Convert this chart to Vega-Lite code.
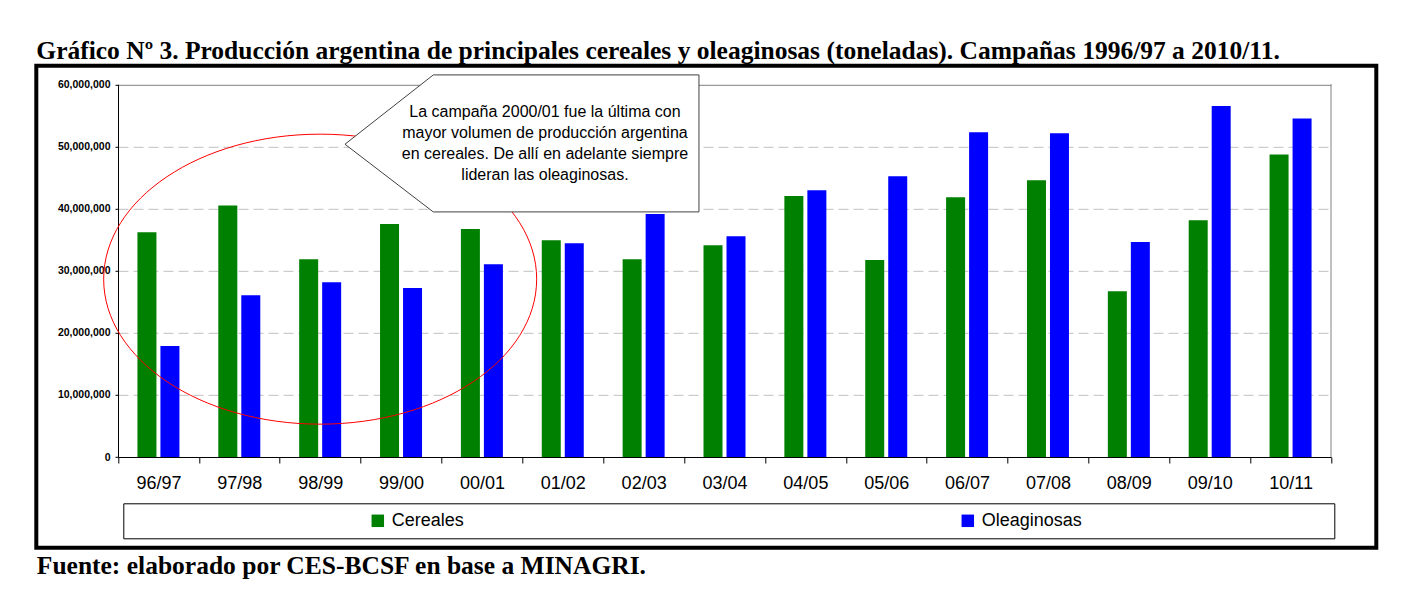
{
  "$schema": "https://vega.github.io/schema/vega-lite/v6.json",
  "width": 1340,
  "height": 482,
  "autosize": {"type": "none"},
  "padding": {"left": 36.3, "top": 65.8, "right": 51.7, "bottom": 49.2},
  "background": "white",
  "title": {
    "text": "Gráfico Nº 3. Producción argentina de principales cereales y oleaginosas (toneladas). Campañas 1996/97 a 2010/11.",
    "anchor": "start",
    "font": "Liberation Serif",
    "fontSize": 25.5,
    "fontWeight": "bold",
    "color": "black",
    "offset": 1
  },
  "config": {"view": {"stroke": "black", "strokeWidth": 4}},
  "datasets": {
    "produccion": [
      {"campana": "96/97", "cultivo": "Cereales", "valor": 36200000},
      {"campana": "96/97", "cultivo": "Oleaginosas", "valor": 17850000},
      {"campana": "97/98", "cultivo": "Cereales", "valor": 40500000},
      {"campana": "97/98", "cultivo": "Oleaginosas", "valor": 26050000},
      {"campana": "98/99", "cultivo": "Cereales", "valor": 31850000},
      {"campana": "98/99", "cultivo": "Oleaginosas", "valor": 28150000},
      {"campana": "99/00", "cultivo": "Cereales", "valor": 37500000},
      {"campana": "99/00", "cultivo": "Oleaginosas", "valor": 27200000},
      {"campana": "00/01", "cultivo": "Cereales", "valor": 36700000},
      {"campana": "00/01", "cultivo": "Oleaginosas", "valor": 31050000},
      {"campana": "01/02", "cultivo": "Cereales", "valor": 34900000},
      {"campana": "01/02", "cultivo": "Oleaginosas", "valor": 34400000},
      {"campana": "02/03", "cultivo": "Cereales", "valor": 31850000},
      {"campana": "02/03", "cultivo": "Oleaginosas", "valor": 39100000},
      {"campana": "03/04", "cultivo": "Cereales", "valor": 34100000},
      {"campana": "03/04", "cultivo": "Oleaginosas", "valor": 35550000},
      {"campana": "04/05", "cultivo": "Cereales", "valor": 42000000},
      {"campana": "04/05", "cultivo": "Oleaginosas", "valor": 42950000},
      {"campana": "05/06", "cultivo": "Cereales", "valor": 31700000},
      {"campana": "05/06", "cultivo": "Oleaginosas", "valor": 45200000},
      {"campana": "06/07", "cultivo": "Cereales", "valor": 41800000},
      {"campana": "06/07", "cultivo": "Oleaginosas", "valor": 52300000},
      {"campana": "07/08", "cultivo": "Cereales", "valor": 44550000},
      {"campana": "07/08", "cultivo": "Oleaginosas", "valor": 52100000},
      {"campana": "08/09", "cultivo": "Cereales", "valor": 26700000},
      {"campana": "08/09", "cultivo": "Oleaginosas", "valor": 34600000},
      {"campana": "09/10", "cultivo": "Cereales", "valor": 38100000},
      {"campana": "09/10", "cultivo": "Oleaginosas", "valor": 56500000},
      {"campana": "10/11", "cultivo": "Cereales", "valor": 48700000},
      {"campana": "10/11", "cultivo": "Oleaginosas", "valor": 54500000}
    ],
    "borde": [{"campana": "10/11", "valor": 60000000, "base": 0}],
    "elipse": [{"campana": "98/99", "valor": 28630000}],
    "nota": [{"campana": "01/02", "valor": 50500000, "texto": "La campaña 2000/01 fue la última con\nmayor volumen de producción argentina\nen cereales. De allí en adelante siempre\nlideran las oleaginosas."}]
  },
  "encoding": {
    "x": {
      "field": "campana",
      "type": "nominal",
      "sort": null,
      "scale": {
        "domain": ["96/97", "97/98", "98/99", "99/00", "00/01", "01/02", "02/03", "03/04", "04/05", "05/06", "06/07", "07/08", "08/09", "09/10", "10/11"],
        "range": [81.7, 1294.7],
        "paddingInner": 0,
        "paddingOuter": 0
      },
      "axis": {
        "title": "Fuente: elaborado por CES-BCSF en base a MINAGRI.",
        "titleFont": "Liberation Serif",
        "titleFontSize": 25.5,
        "titleFontWeight": "bold",
        "titleColor": "black",
        "titleAnchor": "start",
        "titleAlign": "left",
        "titleX": 0,
        "titleY": 116.3,
        "titleBaseline": "alphabetic",
        "titleLimit": 1000,
        "offset": -90.8,
        "tickBand": "extent",
        "labelAngle": 0,
        "labelFont": "Liberation Sans",
        "labelFontSize": 18,
        "labelColor": "black",
        "labelPadding": 11,
        "tickSize": 6,
        "tickColor": "black",
        "domainColor": "black",
        "grid": false,
        "labelBound": false,
        "labelOverlap": false
      }
    },
    "y": {
      "field": "valor",
      "type": "quantitative",
      "scale": {"domain": [0, 60000000], "range": [391.2, 18.5], "nice": false, "zero": true},
      "axis": {
        "title": null,
        "offset": -81.7,
        "values": [0, 10000000, 20000000, 30000000, 40000000, 50000000, 60000000],
        "format": ",d",
        "labelFont": "Liberation Sans",
        "labelFontWeight": "bold",
        "labelFontSize": 10.5,
        "labelColor": "black",
        "labelPadding": 5,
        "tickSize": 3,
        "tickColor": "black",
        "domainColor": "black",
        "grid": true,
        "gridColor": {"condition": {"test": "datum.value == 60000000", "value": "#808080"}, "value": "#c0c0c0"},
        "gridDash": {"condition": {"test": "datum.value == 60000000", "value": []}, "value": [10, 5]},
        "gridOpacity": {"condition": {"test": "datum.value == 0", "value": 0}, "value": 1}
      }
    }
  },
  "layer": [
    {
      "data": {"name": "produccion"},
      "mark": {"type": "bar"},
      "encoding": {
        "xOffset": {"field": "cultivo", "type": "nominal", "scale": {"paddingInner": 0.1739, "paddingOuter": 0.845}},
        "color": {
          "field": "cultivo",
          "type": "nominal",
          "scale": {"domain": ["Cereales", "Oleaginosas"], "range": ["#008000", "#0000ff"]},
          "legend": {
            "title": "\u00a0",
            "titleOrient": "left",
            "titlePadding": 237,
            "orient": "none",
            "legendX": 87,
            "legendY": 437.5,
            "direction": "horizontal",
            "columns": 2,
            "columnPadding": 494,
            "strokeColor": "black",
            "fillColor": "white",
            "padding": 8.5,
            "symbolType": "square",
            "symbolSize": 156,
            "symbolStrokeWidth": 0,
            "symbolOpacity": 1,
            "labelFont": "Liberation Sans",
            "labelFontSize": 18,
            "labelColor": "black",
            "labelOffset": 5,
            "labelLimit": 500,
            "labelExpr": "datum.label + (datum.label == 'Oleaginosas' ? '\u00a0\u00a0\u00a0\u00a0\u00a0\u00a0\u00a0\u00a0\u00a0\u00a0\u00a0\u00a0\u00a0\u00a0\u00a0\u00a0\u00a0\u00a0\u00a0\u00a0\u00a0\u00a0\u00a0\u00a0\u00a0\u00a0\u00a0\u00a0\u00a0\u00a0\u00a0\u00a0\u00a0\u00a0\u00a0\u00a0\u00a0\u00a0\u00a0\u00a0\u00a0\u00a0\u00a0\u00a0\u00a0\u00a0\u2800' : '')"
          }
        }
      }
    },
    {
      "data": {"name": "borde"},
      "mark": {"type": "rule", "color": "#808080", "strokeWidth": 1},
      "encoding": {
        "x": {"field": "campana", "type": "nominal", "sort": null, "bandPosition": 1},
        "y2": {"field": "base"}
      }
    },
    {
      "data": {"name": "elipse"},
      "mark": {
        "type": "point",
        "shape": "M -216.5 0 A 216.5 145 0 1 0 216.5 0 A 216.5 145 0 1 0 -216.5 0 Z",
        "size": 4,
        "filled": false,
        "stroke": "#ff0000",
        "strokeWidth": 1,
        "opacity": 1
      }
    },
    {
      "data": {"name": "nota"},
      "mark": {
        "type": "point",
        "shape": "M -217.8 0.9 L -129.5 -68.4 L 136.2 -68.4 L 136.2 68.6 L -129.5 68.6 Z",
        "size": 4,
        "filled": true,
        "fill": "white",
        "stroke": "#404040",
        "strokeWidth": 1,
        "opacity": 1
      }
    },
    {
      "data": {"name": "nota"},
      "mark": {
        "type": "text",
        "font": "Liberation Sans",
        "fontSize": 16,
        "lineHeight": 20.9,
        "lineBreak": "\n",
        "align": "center",
        "baseline": "middle",
        "dx": -17.8,
        "dy": -31.35,
        "color": "black"
      },
      "encoding": {"text": {"field": "texto", "type": "nominal"}}
    }
  ]
}
